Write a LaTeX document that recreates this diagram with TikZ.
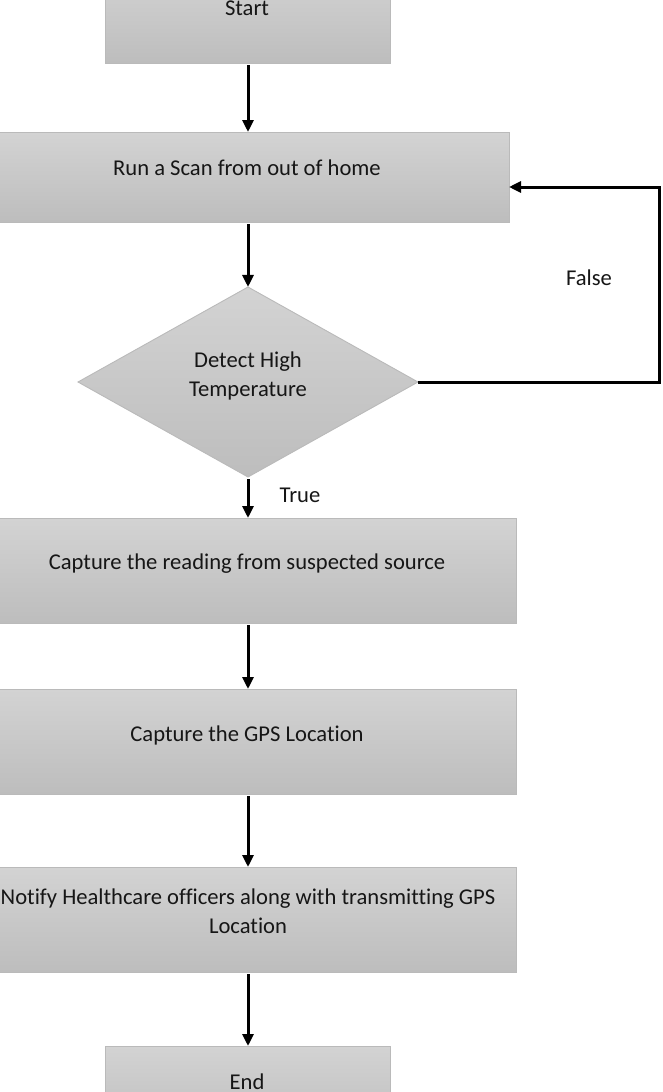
\documentclass[tikz,border=0pt]{standalone}
\usepackage{fontspec}
\setmainfont{Carlito}[Ligatures=NoCommon]
\usetikzlibrary{shapes.geometric,arrows.meta}
\definecolor{boxtop}{HTML}{D3D3D3}
\definecolor{boxbot}{HTML}{BDBDBD}
\definecolor{boxline}{HTML}{BABABA}
\definecolor{txt}{HTML}{161616}
\begin{document}
\begin{tikzpicture}[x=1pt,y=-1pt,
  procbox/.style={rectangle, draw=boxline, line width=0.9pt, top color=boxtop, bottom color=boxbot, inner sep=0pt, outer sep=0pt},
  decbox/.style={diamond, draw=boxline, line width=0.9pt, top color=boxtop, bottom color=boxbot, inner sep=0pt, outer sep=0pt, minimum width=340pt, minimum height=190pt},
  lbl/.style={text=txt, font=\fontsize{22.6}{29}\selectfont, inner sep=0pt, anchor=base},
  arr/.style={line width=3pt, -{Triangle[length=12pt,width=11pt]}, shorten <=2pt}
]
\useasboundingbox (0,0) rectangle (662,1092);
\clip (0,0) rectangle (662,1092);

% boxes
\node[procbox, minimum width=285pt, minimum height=90pt]  (start)   at (248,18)    {};
\node[procbox, minimum width=522pt, minimum height=90pt]  (run)     at (248,177)   {};
\node[decbox]                                              (detect)  at (248,382)   {};
\node[procbox, minimum width=536pt, minimum height=105pt] (capture) at (248,570.5) {};
\node[procbox, minimum width=536pt, minimum height=105pt] (gps)     at (248,741.5) {};
\node[procbox, minimum width=536pt, minimum height=105pt] (notify)  at (248,919.5) {};
\node[procbox, minimum width=285pt, minimum height=90pt]  (end)     at (248,1091)  {};

% texts
\node[lbl] (tstart)  at (247,15)   {Start};
\node[lbl] (trun)    at (247,175)  {Run a Scan from out of home};
\node[lbl] (tdet1)   at (248,367)  {Detect High};
\node[lbl] (tdet2)   at (248,396)  {Temperature};
\node[lbl] (tcap)    at (247,569)  {Capture the reading from suspected source};
\node[lbl] (tgps)    at (247,741)  {Capture the GPS Location};
\node[lbl] (tnot1)   at (248,904)  {Notify Healthcare officers along with transmitting GPS};
\node[lbl] (tnot2)   at (248,933)  {Location};
\node[lbl] (tend)    at (247,1089) {End};
\node[lbl] (ttrue)   at (300,502)  {True};
\node[lbl] (tfalse)  at (589,285)  {False};

% connectors
\draw[arr] (start) -- (run);
\draw[arr] (run) -- (detect);
\draw[arr] (detect) -- (capture);
\draw[arr] (capture) -- (gps);
\draw[arr] (gps) -- (notify);
\draw[arr] (notify) -- (end);
\coordinate (fcorner) at (659,382);
\coordinate (fin) at (509,187);
\draw[line width=3pt, -{Triangle[length=12pt,width=11pt]}] (detect.east) -- (fcorner) |- (fin);
\end{tikzpicture}
\end{document}
